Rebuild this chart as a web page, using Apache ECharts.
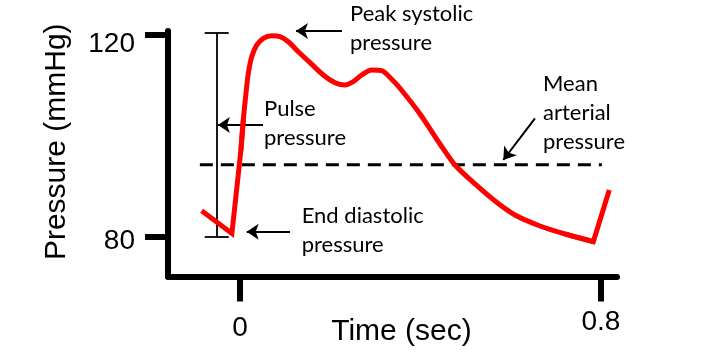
<!DOCTYPE html>
<html>
<head>
<meta charset="utf-8">
<script src="https://cdn.jsdelivr.net/npm/echarts@6/dist/echarts.min.js"></script>
<style>
  html, body { margin: 0; padding: 0; background: #fff; }
  #chart { width: 703px; height: 364px; }
</style>
</head>
<body>
<div id="chart"></div>
<script>
// ---- data ----
const timeTicks = [0, 0.8];
const pressureTicks = [80, 120];

const waveTime = [-0.085, -0.018, 0.002, 0.0073, 0.0133, 0.0184, 0.0259, 0.0370, 0.0516, 0.0702,
                  0.0886, 0.1070, 0.1292, 0.1551, 0.1846, 0.2105, 0.2327, 0.2511, 0.2697, 0.2919,
                  0.3140, 0.3362, 0.3546, 0.3989, 0.4432, 0.4765, 0.5208, 0.5651, 0.6094, 0.6648,
                  0.7202, 0.7830, 0.8184];
const wavePressure = [85.1, 80.6, 97.1, 103.1, 108.4, 112.3, 115.6, 117.9, 119.25, 119.76,
                      119.56, 118.57, 116.59, 114.42, 111.98, 110.46, 110.0, 110.65, 111.98, 112.97,
                      112.83, 111.13, 109.35, 104.26, 98.32, 94.16, 90.40, 87.03, 84.26, 82.08,
                      80.50, 78.97, 89.21];

const meanTime = [-0.089, 0.802];
const meanPressure = [94.2, 94.2];

const pulseTime = -0.0516;
const pulseRange = [80, 120.3];
const pulseCapHalf = 0.0266;

// arrows: [fromTime, fromPressure, toTime, toPressure]
const arrowPeak = [0.226, 120.69, 0.124, 120.69];
const arrowPulse = [0.051, 102.1, -0.049, 102.1];
const arrowEnd = [0.1108, 80.95, 0.0148, 80.95];
const arrowMean = [0.6537, 103.4, 0.5835, 95.15];

const annotationTexts = ['Peak systolic\npressure', 'Pulse\npressure', 'End diastolic\npressure', 'Mean\narterial\npressure'];
const annotationTime = [0.2438, 0.0532, 0.1367, 0.6715];
const annotationPressure = [126.9, 108.1, 86.9, 113.0];

// ---- build ----
const wave = waveTime.map((t, i) => [t, wavePressure[i]]);
const n = wave.length;
const segA = wave.slice(0, 4);
const segB = wave.slice(2, n - 1);
const segC = wave.slice(n - 3, n);
const meanLine = meanTime.map((t, i) => [t, meanPressure[i]]);

const bracket = [
  { coords: [[pulseTime, pulseRange[0]], [pulseTime, pulseRange[1]]] },
  { coords: [[pulseTime - pulseCapHalf, pulseRange[1]], [pulseTime + pulseCapHalf, pulseRange[1]]] },
  { coords: [[pulseTime - pulseCapHalf, pulseRange[0]], [pulseTime + pulseCapHalf, pulseRange[0]]] }
];
const arrows = [arrowPeak, arrowPulse, arrowEnd, arrowMean].map(a => ({ coords: [[a[0], a[1]], [a[2], a[3]]] }));

const red = '#ff0000';
const redLine = (data, smooth) => ({
  type: 'line', data, smooth, symbol: 'none', showSymbol: false, z: 5, silent: true,
  lineStyle: { color: red, width: 5, join: 'miter', cap: 'butt' }
});

const tickFont = { fontFamily: 'Liberation Sans', fontSize: 28, color: '#000' };

const chart = echarts.init(document.getElementById('chart'), null, { renderer: 'canvas' });
chart.setOption({
  animation: false,
  backgroundColor: '#fff',
  grid: { left: 168, right: 86, top: 31, bottom: 87.5, containLabel: false, outerBoundsMode: 'none' },
  xAxis: {
    type: 'value', min: -0.1596, max: 0.8355,
    name: 'Time (sec)', nameLocation: 'middle', nameGap: 40, nameMoveOverlap: false,
    nameTextStyle: { fontFamily: 'Liberation Sans', fontSize: 30, color: '#000', padding: [0, 0, 0, 18] },
    axisLine: { show: true, onZero: false, lineStyle: { color: '#000', width: 6 } },
    axisTick: { show: true, customValues: timeTicks, length: 25, lineStyle: { color: '#000', width: 6 } },
    axisLabel: {
      customValues: timeTicks, margin: 32, ...tickFont,
      formatter: v => (v === 0 ? '{lo|' + v + '}' : '{hi|' + v + '}'),
      rich: { lo: { ...tickFont, padding: [6, 0, 0, 0] }, hi: { ...tickFont } }
    },
    splitLine: { show: false }
  },
  yAxis: {
    type: 'value', min: 72.08, max: 120.69,
    name: 'Pressure (mmHg)', nameLocation: 'middle', nameRotate: 90, nameGap: 96, nameMoveOverlap: false,
    nameTextStyle: { fontFamily: 'Liberation Sans', fontSize: 30, color: '#000', padding: [0, 0, 0, 24] },
    axisLine: { show: true, onZero: false, lineStyle: { color: '#000', width: 6 } },
    axisTick: { show: true, customValues: pressureTicks, length: 23, lineStyle: { color: '#000', width: 6 } },
    axisLabel: {
      customValues: pressureTicks, margin: 33, ...tickFont,
      formatter: v => (v === 120 ? '{hi|' + v + '}' : '{lo|' + v + '}'),
      rich: { hi: { ...tickFont, padding: [19, 0, 0, 0] }, lo: { ...tickFont, padding: [10, 0, 0, 0] } }
    },
    splitLine: { show: false }
  },
  series: [
    {
      type: 'line', data: meanLine, symbol: 'none', z: 3, silent: true,
      lineStyle: { color: '#000', width: 3, type: [13, 8] }
    },
    redLine(segA, false),
    redLine(segB, 0.3),
    redLine(segC, false),
    {
      type: 'lines', coordinateSystem: 'cartesian2d', clip: false, z: 4, silent: true,
      symbol: 'none', lineStyle: { color: '#000', width: 1.8, opacity: 1 }, data: bracket
    },
    {
      type: 'lines', coordinateSystem: 'cartesian2d', clip: false, z: 4, silent: true,
      symbol: ['none', 'arrow'], symbolSize: 12,
      lineStyle: { color: '#000', width: 2, opacity: 1 }, data: arrows
    }
  ]
});

chart.setOption({
  graphic: annotationTexts.map((text, i) => {
    const [x, y] = chart.convertToPixel({ gridIndex: 0 }, [annotationTime[i], annotationPressure[i]]);
    return {
      type: 'text', x, y, silent: true,
      style: { text, fontFamily: 'Lato', fontSize: 22, lineHeight: 29, fill: '#000', align: 'left', verticalAlign: 'top' }
    };
  })
});
</script>
</body>
</html>
